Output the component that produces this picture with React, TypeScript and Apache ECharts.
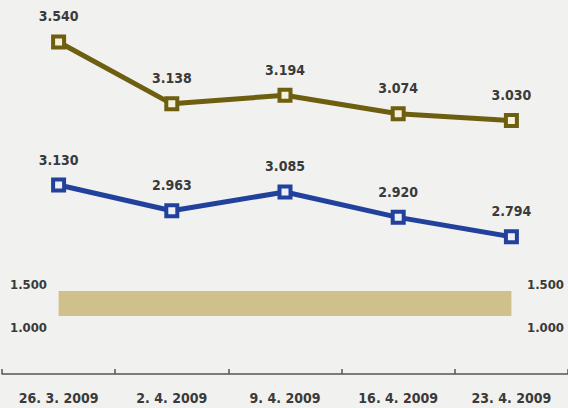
import React, { useEffect, useRef } from "react";
import * as echarts from "echarts";

const categories = ["26. 3. 2009", "2. 4. 2009", "9. 4. 2009", "16. 4. 2009", "23. 4. 2009"];
const goldValues = [3540, 3138, 3194, 3074, 3030];
const blueValues = [3130, 2963, 3085, 2920, 2794];
const breakTicks = [1000, 1500];
const breakBand = [1132, 1420];

const fmt = (v: number) => {
  const s = String(Math.round(v));
  return s.length > 3 ? s.slice(0, s.length - 3) + "." + s.slice(s.length - 3) : s;
};

const FONT = "'DejaVu Sans Condensed', 'DejaVu Sans', sans-serif";
const GOLD = "#6e5e10";
const BLUE = "#21419c";
const TEXT = "#3a3a3a";

export default function App() {
  const ref = useRef<HTMLDivElement>(null);
  useEffect(() => {
    if (!ref.current) return;
    const chart = echarts.init(ref.current, undefined, { renderer: "svg" });
    const labelStyle = {
      show: true,
      position: "top" as const,
      distance: 11,
      fontFamily: FONT,
      fontWeight: "bold" as const,
      fontSize: 14,
      color: TEXT,
      formatter: (p: any) => fmt(p.value),
    };
    chart.setOption({
      animation: false,
      backgroundColor: "#f1f1ef",
      grid: [
        { left: 2, right: 0, top: 17, bottom: 34 },
        { left: 2, right: 0, top: 284, bottom: 80.5 },
      ],
      xAxis: [
        {
          type: "category",
          gridIndex: 0,
          data: categories,
          boundaryGap: true,
          axisLine: { lineStyle: { color: "#555", width: 1.5 } },
          axisTick: { show: true, inside: true, length: 5, lineStyle: { color: "#555", width: 1.5 } },
          axisLabel: {
            margin: 17,
            fontFamily: FONT,
            fontWeight: "bold",
            fontSize: 14,
            color: TEXT,
          },
        },
        {
          type: "category",
          gridIndex: 1,
          data: categories,
          boundaryGap: true,
          show: false,
        },
      ],
      yAxis: [
        { type: "value", gridIndex: 0, min: 1384, max: 3702, show: false },
        { type: "value", gridIndex: 0, min: 1903, max: 4221, show: false },
        {
          type: "value",
          gridIndex: 1,
          min: breakTicks[0],
          max: breakTicks[1],
          interval: breakTicks[1] - breakTicks[0],
          position: "left",
          axisLine: { show: false },
          axisTick: { show: false },
          splitLine: { show: false },
          axisLabel: {
            inside: true,
            margin: 8,
            fontFamily: FONT,
            fontWeight: "bold",
            fontSize: 13,
            color: TEXT,
            formatter: (v: number) => fmt(v),
          },
        },
        {
          type: "value",
          gridIndex: 1,
          min: breakTicks[0],
          max: breakTicks[1],
          interval: breakTicks[1] - breakTicks[0],
          position: "right",
          axisLine: { show: false },
          axisTick: { show: false },
          splitLine: { show: false },
          axisLabel: {
            inside: true,
            margin: 4,
            fontFamily: FONT,
            fontWeight: "bold",
            fontSize: 13,
            color: TEXT,
            formatter: (v: number) => fmt(v),
          },
        },
      ],
      series: [
        {
          type: "line",
          xAxisIndex: 0,
          yAxisIndex: 0,
          data: goldValues,
          symbol: "rect",
          symbolSize: 11,
          lineStyle: { color: GOLD, width: 5 },
          itemStyle: { color: "#f5f1dc", borderColor: GOLD, borderWidth: 4 },
          label: labelStyle,
          z: 3,
        },
        {
          type: "line",
          xAxisIndex: 0,
          yAxisIndex: 1,
          data: blueValues,
          symbol: "rect",
          symbolSize: 11,
          lineStyle: { color: BLUE, width: 5 },
          itemStyle: { color: "#eef0f8", borderColor: BLUE, borderWidth: 4 },
          label: labelStyle,
          z: 3,
        },
        {
          type: "line",
          xAxisIndex: 1,
          yAxisIndex: 2,
          data: [],
          markArea: {
            silent: true,
            itemStyle: { color: "#cfc08c", opacity: 1 },
            data: [
              [
                { xAxis: categories[0], yAxis: breakBand[0] },
                { xAxis: categories[categories.length - 1], yAxis: breakBand[1] },
              ],
            ],
          },
        },
      ],
    });
    return () => chart.dispose();
  }, []);
  return (
    <div
      ref={ref}
      style={{ position: "fixed", left: 0, top: 0, width: 568, height: 408 }}
    />
  );
}
